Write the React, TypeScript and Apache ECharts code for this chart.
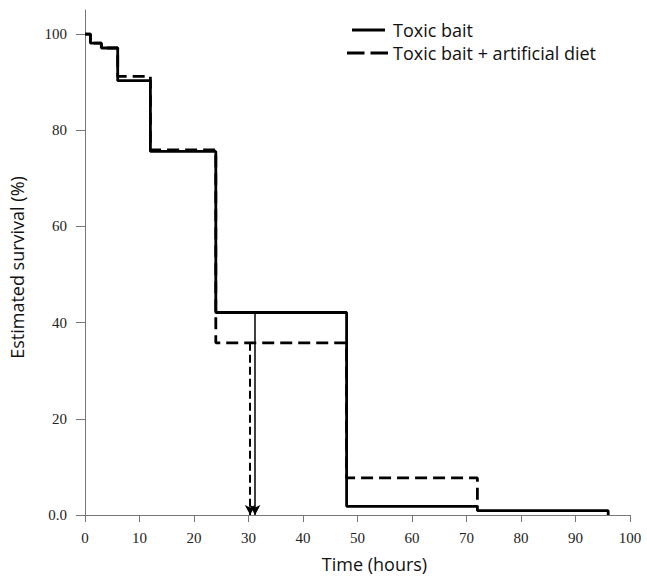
import React, { useEffect, useRef } from "react";
import * as echarts from "echarts";

// Kaplan–Meier step points: [time (h), estimated survival (%)]
const toxicBaitTimes = [0, 1, 3, 6, 12, 24, 48, 72, 96];
const toxicBaitSurvival = [100, 98.1, 97.1, 90.3, 75.6, 42.1, 1.8, 0.9, 0];

const dietTimes = [0, 1, 3, 6, 12, 24, 48, 72];
const dietSurvival = [100, 98.1, 97.1, 91.2, 75.9, 35.8, 7.7, 1.8];

// median survival times (arrows)
const medianToxicBait = 31.2;
const medianDiet = 30.3;

const seriesNames = ["Toxic bait", "Toxic bait + artificial diet"];
const yTicks = [0, 20, 40, 60, 80, 100];

const SANS = "'Open Sans', Lato, sans-serif";
const SERIF = "'Liberation Serif', 'DejaVu Serif', serif";

export default function App() {
  const ref = useRef<HTMLDivElement>(null);

  useEffect(() => {
    if (!ref.current) return;
    const chart = echarts.init(ref.current, undefined, { renderer: "svg" });

    const solidData = toxicBaitTimes.map((t, i) => [t, toxicBaitSurvival[i]]);
    const dashedData = dietTimes.map((t, i) => [t, dietSurvival[i]]);
    const solidStart = toxicBaitSurvival[toxicBaitTimes.indexOf(24)];
    const dashedStart = dietSurvival[dietTimes.indexOf(24)];

    chart.setOption({
      animation: false,
      backgroundColor: "#ffffff",
      grid: { left: 85, right: 17, top: 10, bottom: 61, containLabel: false },
      graphic: [
        {
          type: "line",
          shape: { x1: 352, y1: 30, x2: 385, y2: 30 },
          style: { stroke: "#000", lineWidth: 3 },
        },
        {
          type: "text",
          x: 393,
          y: 30,
          style: {
            text: seriesNames[0],
            fontFamily: SANS,
            fontSize: 18,
            fill: "#111",
            verticalAlign: "middle",
            align: "left",
          },
        },
        {
          type: "line",
          shape: { x1: 347, y1: 53, x2: 388, y2: 53 },
          style: { stroke: "#000", lineWidth: 3, lineDash: [17.5, 6] },
        },
        {
          type: "text",
          x: 393,
          y: 53,
          style: {
            text: seriesNames[1],
            fontFamily: SANS,
            fontSize: 18,
            fill: "#111",
            verticalAlign: "middle",
            align: "left",
          },
        },
      ],
      xAxis: {
        type: "value",
        min: 0,
        max: 100,
        interval: 10,
        name: "Time (hours)",
        nameLocation: "middle",
        nameGap: 40,
        nameTextStyle: { fontFamily: SANS, fontSize: 18, color: "#111", padding: [0, 0, 0, 34] },
        axisLine: { lineStyle: { color: "#777", width: 1 } },
        axisTick: { length: 7, lineStyle: { color: "#777" } },
        axisLabel: { fontFamily: SERIF, fontSize: 15, color: "#222", margin: 15 },
        splitLine: { show: false },
      },
      yAxis: {
        type: "value",
        min: 0,
        max: 105,
        name: "Estimated survival (%)",
        nameLocation: "middle",
        nameGap: 59,
        nameTextStyle: { fontFamily: SANS, fontSize: 18, color: "#111", padding: [0, 10, 0, 0] },
        axisLine: { show: true, lineStyle: { color: "#777", width: 1 } },
        axisTick: { show: true, length: 9, lineStyle: { color: "#777" }, customValues: yTicks },
        axisLabel: {
          fontFamily: SERIF,
          fontSize: 15,
          color: "#222",
          margin: 18,
          customValues: yTicks,
          formatter: (v: number) => (v === 0 ? "0.0" : String(v)),
        },
        splitLine: { show: false },
      },
      series: [
        {
          name: seriesNames[1],
          type: "line",
          step: "end",
          symbol: "none",
          z: 2,
          data: dashedData,
          lineStyle: { color: "#000", width: 2.8, type: [12, 6] },
          itemStyle: { color: "#000" },
          markLine: {
            silent: true,
            symbol: ["none", "arrow"],
            symbolSize: [8, 10],
            label: { show: false },
            lineStyle: { color: "#000", width: 2, type: [8, 4] },
            data: [[{ coord: [medianDiet, dashedStart] }, { coord: [medianDiet, 0] }]],
          },
        },
        {
          name: seriesNames[0],
          type: "line",
          step: "end",
          symbol: "none",
          z: 3,
          data: solidData,
          lineStyle: { color: "#000", width: 2.8, type: "solid" },
          itemStyle: { color: "#000" },
          markLine: {
            silent: true,
            symbol: ["none", "arrow"],
            symbolSize: [8, 10],
            label: { show: false },
            lineStyle: { color: "#000", width: 1.5, type: "solid" },
            data: [[{ coord: [medianToxicBait, solidStart] }, { coord: [medianToxicBait, 0] }]],
          },
        },
      ],
    });

    return () => chart.dispose();
  }, []);

  return (
    <div
      ref={ref}
      style={{ position: "absolute", left: 0, top: 0, width: 647, height: 578, background: "#fff" }}
    />
  );
}
